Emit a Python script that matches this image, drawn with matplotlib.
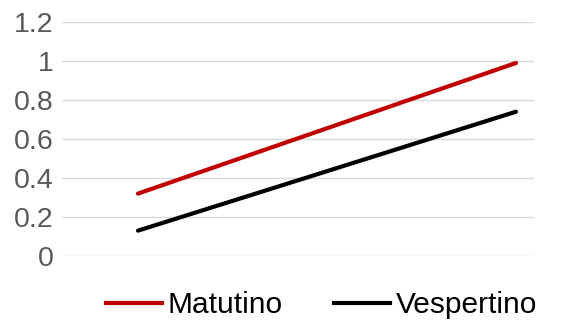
import matplotlib
matplotlib.use("Agg")
import matplotlib.pyplot as plt
from matplotlib.lines import Line2D

plt.rcParams['font.family'] = ['Liberation Sans', 'DejaVu Sans']

x = [0, 1]
matutino = [0.32, 0.99]
vespertino = [0.13, 0.74]
series_names = ["Matutino", "Vespertino"]
colors = ["#C00000", "#000000"]
yticks = [0, 0.2, 0.4, 0.6, 0.8, 1.0, 1.2]
ytick_labels = ["0", "0.2", "0.4", "0.6", "0.8", "1", "1.2"]

W, H = 572, 330
fig = plt.figure(figsize=(W / 100, H / 100), dpi=100)
left, right, top, bottom = 62, 534, 22, 256
ax = fig.add_axes([left / W, 1 - bottom / H, (right - left) / W, (bottom - top) / H])

for vals, c, name in zip([matutino, vespertino], colors, series_names):
    ax.plot(x, vals, color=c, lw=3, solid_capstyle='round', label=name, zorder=3)

px_per_unit = (516 - 138)
ax.set_xlim((left - 138) / px_per_unit, 1 + (right - 516) / px_per_unit)
ax.set_ylim(0, 1.2)
ax.set_yticks(yticks)
ax.set_yticklabels(ytick_labels)
ax.set_xticks([])
ax.grid(axis='y', color='#D9D9D9', lw=1)
ax.set_axisbelow(True)
for s in ax.spines.values():
    s.set_visible(False)
ax.tick_params(axis='y', length=0, pad=6, labelsize=20.5, labelcolor='#595959')

handles = [Line2D([0], [0], color=c, lw=3) for c in colors]
fig.legend(handles, series_names, loc='center', bbox_to_anchor=(0.562, 1 - 305 / H),
           ncol=2, frameon=False, fontsize=21.5, handlelength=1.9, handletextpad=0.18,
           columnspacing=1.7)

fig.savefig("out.png", dpi=100)
